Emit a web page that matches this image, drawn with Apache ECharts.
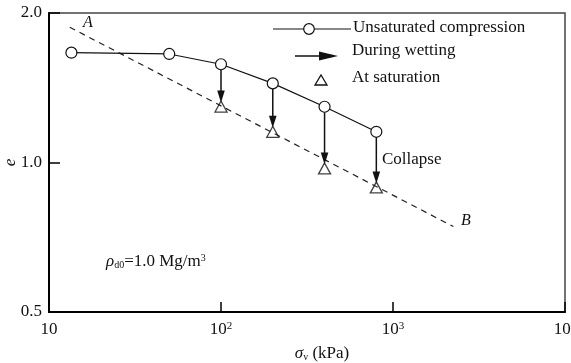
<!DOCTYPE html>
<html><head><meta charset="utf-8">
<script src="https://cdn.jsdelivr.net/npm/echarts@6/dist/echarts.min.js"></script>
<style>html,body{margin:0;padding:0;background:#fff}#c{width:571px;height:363px}</style>
</head><body><div id="c"></div>
<script>
// ---- data ----
const pressure = [13.5, 50, 100, 200, 400, 800];          // kPa
const eUnsat   = [1.664, 1.654, 1.577, 1.443, 1.295, 1.153];
const wetPressure = [100, 200, 400, 800];                 // kPa
const eWetStart   = [1.577, 1.443, 1.295, 1.153];
const eSat        = [1.296, 1.153, 0.973, 0.891];
const abPressure = [13.2, 2244];
const abE        = [1.872, 0.743];
const xTickExp = [1, 2, 3, 4];
const yTicks = [0.5, 1.0, 2.0];

const FONT = '"Liberation Serif","Times New Roman",serif';
const chart = echarts.init(document.getElementById('c'), null, {renderer: 'canvas'});

const unsatData = pressure.map((p, i) => [p, eUnsat[i]]);
const satData = wetPressure.map((p, i) => [p, eSat[i]]);
const arrowData = wetPressure.map((p, i) => [p, eWetStart[i], eSat[i]]);
const abData = abPressure.map((p, i) => [p, abE[i]]);

const option = {
  animation: false,
  backgroundColor: '#fff',
  grid: {left: 49, right: 6, top: 13, bottom: 51, show: true, borderColor: '#444', borderWidth: 1.5,
         containLabel: false, outerBoundsMode: 'none'},
  xAxis: {
    type: 'log', logBase: 10, min: 10, max: 10000,
    name: '{i|σ}{s|v} (kPa)', nameLocation: 'middle', nameGap: 33, nameMoveOverlap: false,
    nameTextStyle: {fontFamily: FONT, fontSize: 17, color: '#111', padding: [0, 0, 0, 30],
      rich: {i: {fontFamily: FONT, fontSize: 17, fontStyle: 'italic', color: '#111'},
             s: {fontFamily: FONT, fontSize: 10, color: '#111', verticalAlign: 'bottom', padding: [6, 0, 0, 0]}}},
    axisLine: {show: true, lineStyle: {color: '#000', width: 2}},
    axisTick: {show: true, inside: true, length: 10, lineStyle: {color: '#000', width: 1.5}},
    splitLine: {show: false}, minorTick: {show: false},
    axisLabel: {
      margin: 9, color: '#111', fontFamily: FONT, fontSize: 17,
      formatter: function (v) {
        const n = Math.round(Math.log10(v));
        return n === 1 ? '{b|10}' : '{b|10}{s|' + n + '}';
      },
      rich: {b: {fontFamily: FONT, fontSize: 17, color: '#111', verticalAlign: 'top', lineHeight: 20},
             s: {fontFamily: FONT, fontSize: 11, color: '#111', verticalAlign: 'top', lineHeight: 12}}
    }
  },
  yAxis: {
    type: 'log', logBase: 2, min: 0.5, max: 2, splitNumber: 2,
    name: 'e', nameLocation: 'middle', nameGap: 30, nameRotate: 90, nameMoveOverlap: false,
    nameTextStyle: {fontFamily: FONT, fontSize: 17, fontStyle: 'italic', color: '#111'},
    axisLine: {show: true, lineStyle: {color: '#000', width: 2}},
    axisTick: {show: true, inside: true, length: 11, lineStyle: {color: '#000', width: 1.5}},
    splitLine: {show: false},
    axisLabel: {margin: 7, color: '#111', fontFamily: FONT, fontSize: 17,
      formatter: v => Number(v).toFixed(1)}
  },
  series: [
    {
      type: 'line', data: abData, symbol: 'none', silent: true, z: 2,
      lineStyle: {color: '#222', width: 1.2, type: [6, 5]}
    },
    {
      type: 'line', data: unsatData, symbol: 'circle', symbolSize: 11, z: 3,
      lineStyle: {color: '#111', width: 1.2},
      itemStyle: {color: '#fff', borderColor: '#111', borderWidth: 1.2}
    },
    {
      type: 'scatter', data: satData, symbol: 'triangle', symbolSize: [12, 11], z: 3,
      itemStyle: {color: 'rgba(255,255,255,0)', borderColor: '#111', borderWidth: 1.3}
    },
    {
      type: 'custom', data: arrowData, z: 5,
      renderItem: function (params, api) {
        const p0 = api.coord([api.value(0), api.value(1)]);
        const p1 = api.coord([api.value(0), api.value(2)]);
        const x = p0[0];
        const tip = p1[1] - 4;
        const headLen = 12, half = 3.8;
        return {
          type: 'group', children: [
            {type: 'line', shape: {x1: x, y1: p0[1] + 5.5, x2: x, y2: tip - headLen + 1},
             style: {stroke: '#111', lineWidth: 1.5}},
            {type: 'polygon', shape: {points: [[x - half, tip - headLen], [x + half, tip - headLen], [x, tip]]},
             style: {fill: '#111'}}
          ]
        };
      }
    }
  ],
  graphic: [
    // legend
    {type: 'line', shape: {x1: 273, y1: 29, x2: 351, y2: 29}, style: {stroke: '#111', lineWidth: 1.2}},
    {type: 'circle', shape: {cx: 309, cy: 29, r: 5.3}, style: {fill: '#fff', stroke: '#111', lineWidth: 1.2}},
    {type: 'text', left: 353, top: 19, style: {text: 'Unsaturated compression', font: '17px ' + FONT, fill: '#111'}},
    {type: 'line', shape: {x1: 295, y1: 56, x2: 322, y2: 56}, style: {stroke: '#111', lineWidth: 1.5}},
    {type: 'polygon', shape: {points: [[319, 51.5], [338, 56], [319, 60.5]]}, style: {fill: '#111'}},
    {type: 'text', left: 352, top: 42, style: {text: 'During wetting', font: '17px ' + FONT, fill: '#111'}},
    {type: 'polygon', shape: {points: [[315, 85], [327, 85], [321, 75]]}, style: {fill: '#fff', stroke: '#111', lineWidth: 1.3}},
    {type: 'text', left: 352, top: 69, style: {text: 'At saturation', font: '17px ' + FONT, fill: '#111'}},
    // annotations
    {type: 'text', left: 83, top: 15, style: {text: 'A', font: 'italic 16px ' + FONT, fill: '#111'}},
    {type: 'text', left: 461, top: 213, style: {text: 'B', font: 'italic 16px ' + FONT, fill: '#111'}},
    {type: 'text', left: 382, top: 151, style: {text: 'Collapse', font: '17px ' + FONT, fill: '#111'}},
    {type: 'text', left: 106, top: 253, style: {
      text: '{i|ρ}{s|d0}=1.0 Mg/m{p|3}',
      rich: {i: {font: 'italic 17px ' + FONT, fill: '#111', verticalAlign: 'bottom'},
             s: {font: '10px ' + FONT, fill: '#111', verticalAlign: 'bottom'},
             p: {font: '10px ' + FONT, fill: '#111', verticalAlign: 'top'}},
      font: '17px ' + FONT, fill: '#111'}}
  ]
};
chart.setOption(option);
</script></body></html>
